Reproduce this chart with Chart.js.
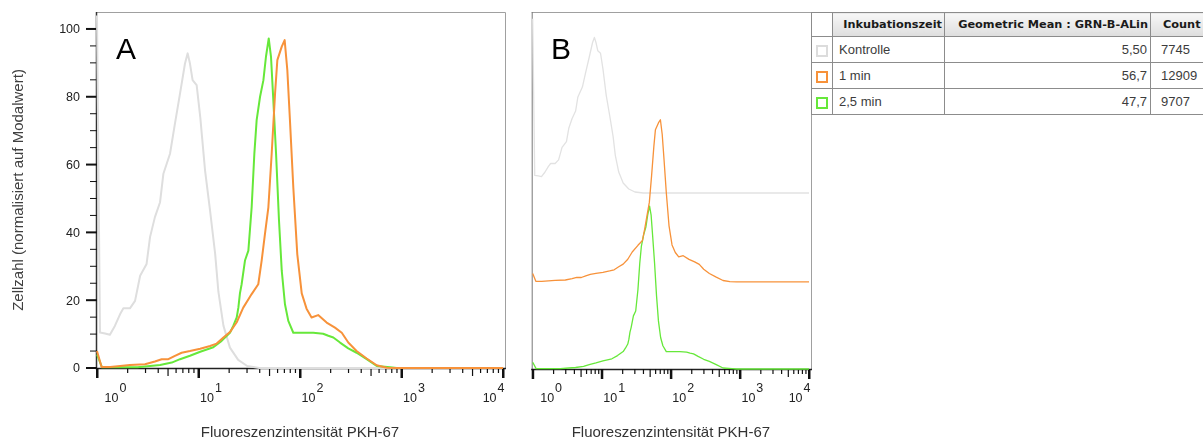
<!DOCTYPE html>
<html>
<head>
<meta charset="utf-8">
<script src="https://cdn.jsdelivr.net/npm/chart.js@4.4.0/dist/chart.umd.min.js"></script>
<style>
  html, body { margin: 0; padding: 0; background: #fff; }
  body { position: relative; width: 1203px; height: 439px; overflow: hidden; font-family: "Liberation Sans", Arial, sans-serif; }
  .wrap { position: absolute; top: 0; height: 439px; }
  #wrapA { left: 0; width: 520px; }
  #wrapB { left: 520px; width: 300px; }
  .panelLabel { position: absolute; top: 34px; font-size: 30px; line-height: 30px; color: #000; }
  #stats { position: absolute; left: 811px; top: 12px; width: 419px; border-collapse: collapse; table-layout: fixed; background: #fff; }
  #stats td, #stats th { border: 1px solid #8c8c8c; padding: 0; white-space: nowrap; overflow: hidden; }
  #stats th { height: 23px; font: bold 11.3px "DejaVu Sans", sans-serif; color: #1a1a1a; text-align: right; padding-right: 2px;
              background: linear-gradient(#f7f7f7, #dedede); }
  #stats th.box { background: #fff; }
  #stats th.cnt { text-align: left; padding-left: 12px; }
  #stats td { height: 25px; font-size: 13px; color: #3c3c3c; }
  #stats td.name { padding-left: 6px; }
  #stats td.num { text-align: right; padding-right: 3px; }
  #stats td.cnt { padding-left: 10px; }
  #stats td.box { text-align: center; }
  .swatch { display: inline-block; width: 8px; height: 8px; border: 2px solid; vertical-align: middle; background: #fff; }
</style>
</head>
<body>
<div class="wrap" id="wrapA"><canvas id="chartA"></canvas></div>
<div class="wrap" id="wrapB"><canvas id="chartB"></canvas></div>
<div class="panelLabel" style="left:116px">A</div>
<div class="panelLabel" style="left:551px">B</div>
<table id="stats">
  <colgroup><col style="width:21px"><col style="width:112px"><col style="width:206px"><col style="width:80px"></colgroup>
  <thead><tr><th class="box"></th><th>Inkubationszeit</th><th>Geometric Mean : GRN-B-ALin</th><th class="cnt">Count</th></tr></thead>
  <tbody id="statsBody"></tbody>
</table>
<script>
// Kontrolle (grau): Fluoreszenz-Werte und normalisierte Zellzahl
const kontrolleX = [1, 1.07, 1.2, 1.34, 1.5, 1.69, 1.82, 2.11, 2.37, 2.66, 3.08, 3.33, 3.72, 4.18, 4.51, 5.24, 5.86, 6.58, 7.36, 7.82, 8.24, 8.75, 9.59, 10.4, 11.6, 13.0, 14.6, 15.7, 17.6, 20.4, 24.6, 30.2, 39.8, 10000];
const kontrolleY = [104, 10.5, 10.2, 9.8, 12.4, 15.9, 17.6, 17.6, 19.8, 27.2, 30.7, 38.6, 44.5, 48.9, 57.3, 63.2, 72.1, 81.0, 89.8, 92.8, 89.8, 84.9, 83.4, 74.1, 58.3, 46.4, 33.6, 22.5, 12.5, 6.0, 2.4, 0.6, 0, 0];

// 1 min (orange)
const min1X = [1, 1.11, 1.35, 1.69, 2.11, 2.97, 3.72, 4.34, 5.05, 5.86, 6.82, 8.24, 10.4, 13.0, 15.1, 17.6, 20.4, 23.8, 27.6, 33.4, 38.8, 41.9, 45.2, 48.8, 52.6, 56.8, 59.8, 66.1, 70.6, 75.0, 79.6, 85.9, 94.0, 104, 116, 130, 151, 183, 221, 258, 299, 361, 454, 570, 715, 898, 10000];
const min1Y = [5.0, 0.3, 0.3, 0.6, 0.9, 1.1, 1.9, 2.6, 2.6, 3.6, 4.5, 5.0, 5.7, 6.5, 7.2, 9.0, 10.6, 13.5, 17.8, 21.8, 24.7, 31.7, 39.6, 47.4, 63.2, 81.0, 90.8, 94.8, 96.7, 87.9, 73.1, 53.3, 33.6, 22.0, 17.5, 14.9, 15.6, 13.4, 11.9, 10.4, 7.5, 5.0, 2.8, 0.8, 0.1, 0, 0];

// 2,5 min (gruen)
const min25X = [1, 1.12, 2.51, 3.33, 4.18, 5.45, 6.58, 8.24, 10.4, 14.0, 16.9, 20.4, 22.0, 23.8, 24.7, 25.6, 26.6, 28.7, 31.0, 33.4, 35.5, 37.4, 40.4, 43.6, 46.2, 49.2, 51.8, 54.6, 58.1, 62.1, 66.1, 71.1, 76.7, 85.9, 135, 169, 190, 213, 248, 299, 361, 454, 570, 771, 898, 10000];
const min25Y = [4.0, 0.2, 0.2, 0.6, 0.9, 1.6, 2.6, 3.6, 4.8, 6.1, 8.0, 10.4, 12.4, 14.9, 17.8, 22.0, 24.7, 31.7, 34.6, 47.4, 63.2, 73.1, 80.0, 84.9, 91.8, 97.2, 91.8, 79.0, 63.2, 43.5, 28.7, 18.8, 13.9, 10.4, 10.4, 10.1, 9.5, 9.0, 7.5, 5.8, 4.5, 2.6, 0.6, 0.2, 0, 0];

// Achsen
const decades = [1, 10, 100, 1000, 10000];
const decadeExp = ['0', '1', '2', '3', '4'];
const yTicksA = [0, 20, 40, 60, 80, 100];

// Tabelle
const sampleNames = ['Kontrolle', '1 min', '2,5 min'];
const geoMeans = ['5,50', '56,7', '47,7'];
const cellCounts = ['7745', '12909', '9707'];

const ORANGE = '#f7923a';
const GREEN = '#66e83a';
const GRAY = '#dedede';
const sampleColors = ['#dcdcdc', ORANGE, GREEN];

const FONT = '"Liberation Sans", Arial, sans-serif';

// draws frame, log ticks with 10^n labels and axis titles (FlowJo style)
const flowAxes = {
    id: 'flowAxes',
    beforeDatasetsDraw(chart, args, o) {
        const { ctx, chartArea: a, scales: { x, y } } = chart;
        ctx.save();

        // frame
        ctx.lineWidth = 1;
        ctx.strokeStyle = '#a0a0a0';
        ctx.beginPath();
        ctx.moveTo(a.left - 1, a.top + 0.5);
        ctx.lineTo(a.right + 2.5, a.top + 0.5);
        ctx.lineTo(a.right + 2.5, a.bottom);
        ctx.stroke();
        ctx.strokeStyle = o.leftColor;
        ctx.lineWidth = o.leftWidth;
        ctx.beginPath();
        ctx.moveTo(a.left - 0.5, a.top);
        ctx.lineTo(a.left - 0.5, a.bottom);
        ctx.stroke();
        ctx.strokeStyle = '#222';
        ctx.lineWidth = 1.5;
        ctx.beginPath();
        ctx.moveTo(a.left - 1.5, a.bottom + 0.5);
        ctx.lineTo(a.right + 3, a.bottom + 0.5);
        ctx.stroke();

        // x ticks
        ctx.fillStyle = '#111';
        decades.forEach((d, i) => {
            const px = x.getPixelForValue(d);
            ctx.fillRect(px - 1, a.bottom, 2.5, 10);
            if (i < decades.length - 1) {
                for (let m = 2; m <= 9; m++) {
                    const mx = x.getPixelForValue(d * m);
                    ctx.fillRect(mx - 0.5, a.bottom, 1.2, m === 5 ? 8 : 5);
                }
            }
        });

        // x tick labels 10^n
        ctx.font = '12.5px ' + FONT;
        ctx.fillStyle = '#222';
        ctx.textAlign = 'left';
        ctx.textBaseline = 'alphabetic';
        const baseW = ctx.measureText('10').width;
        decades.forEach((d, i) => {
            const px = x.getPixelForValue(d);
            const supW = ctx.measureText(decadeExp[i]).width;
            let lx = px + 1.5;
            if (i === 0) lx = px + 7.5;
            if (i === decades.length - 1) lx = px + 1.5 - supW - 1 - baseW;
            ctx.fillText('10', lx, 401.5);
            ctx.fillText(decadeExp[i], lx + baseW + 1, 392);
        });

        // y ticks (panel A only)
        if (o.yTicks) {
            ctx.fillStyle = '#111';
            for (let v = 0; v <= 100; v += 5) {
                const py = y.getPixelForValue(v);
                if (v % 20 === 0) ctx.fillRect(a.left - 11, py - 1, 11, 2);
                else ctx.fillRect(a.left - 7, py - 0.5, 7, 1);
            }
            ctx.fillStyle = '#222';
            ctx.textAlign = 'right';
            ctx.textBaseline = 'middle';
            yTicksA.forEach(v => ctx.fillText(String(v), a.left - 17, y.getPixelForValue(v) + 1));

            ctx.save();
            ctx.font = '15px ' + FONT;
            ctx.fillStyle = '#404040';
            ctx.textAlign = 'center';
            ctx.textBaseline = 'alphabetic';
            ctx.translate(23, (a.top + a.bottom) / 2);
            ctx.rotate(-Math.PI / 2);
            ctx.fillText(o.yTitle, 0, 0);
            ctx.restore();
        }

        // x title
        ctx.font = '15px ' + FONT;
        ctx.fillStyle = '#333';
        ctx.textAlign = 'center';
        ctx.textBaseline = 'alphabetic';
        ctx.fillText(o.xTitle, (a.left + a.right) / 2, 436.5);
        ctx.restore();
    }
};

const pts = (xs, ys, off) => xs.map((v, i) => ({ x: v, y: ys[i] + off }));

function makeChart(id, datasets, padding, yMax, axisOpts) {
    return new Chart(document.getElementById(id), {
        type: 'line',
        data: { datasets },
        options: {
            responsive: true,
            maintainAspectRatio: false,
            animation: false,
            events: [],
            layout: { padding },
            elements: {
                point: { radius: 0 },
                line: { tension: 0, fill: false, borderJoinStyle: 'round' }
            },
            scales: {
                x: { type: 'logarithmic', min: 1, max: 10000, display: false },
                y: { type: 'linear', min: 0, max: yMax, display: false }
            },
            plugins: {
                legend: { display: false },
                tooltip: { enabled: false },
                flowAxes: Object.assign({ xTitle: 'Fluoreszenzintensität PKH-67' }, axisOpts)
            }
        },
        plugins: [flowAxes]
    });
}

// Panel A: overlay, normalized to mode
makeChart('chartA', [
    { label: '1 min', data: pts(min1X, min1Y, 0), borderColor: ORANGE, borderWidth: 2, clip: false },
    { label: '2,5 min', data: pts(min25X, min25Y, 0), borderColor: GREEN, borderWidth: 2, clip: false },
    { label: 'Kontrolle', data: pts(kontrolleX, kontrolleY, 0), borderColor: GRAY, borderWidth: 2, clip: false }
], { left: 97, right: 17, top: 12, bottom: 71 }, 105,
   { yTicks: true, yTitle: 'Zellzahl (normalisiert auf Modalwert)', leftColor: '#333', leftWidth: 1.5 });

// Panel B: staggered offset of the same histograms
makeChart('chartB', [
    { label: '1 min', data: pts(min1X, min1Y, 52), borderColor: ORANGE, borderWidth: 1.3, clip: false },
    { label: '2,5 min', data: pts(min25X, min25Y, 0), borderColor: GREEN, borderWidth: 1.3, clip: false },
    { label: 'Kontrolle', data: pts(kontrolleX, kontrolleY, 105), borderColor: '#e2e2e2', borderWidth: 1.3, clip: false }
], { left: 12.7, right: 11, top: 12, bottom: 70 }, 213,
   { yTicks: false, leftColor: '#777', leftWidth: 1 });

// statistics table
const tbody = document.getElementById('statsBody');
sampleNames.forEach((name, i) => {
    const tr = document.createElement('tr');
    tr.innerHTML = '<td class="box"><span class="swatch" style="border-color:' + sampleColors[i] + '"></span></td>' +
        '<td class="name">' + name + '</td>' +
        '<td class="num">' + geoMeans[i] + '</td>' +
        '<td class="cnt">' + cellCounts[i] + '</td>';
    tbody.appendChild(tr);
});
</script>
</body>
</html>
